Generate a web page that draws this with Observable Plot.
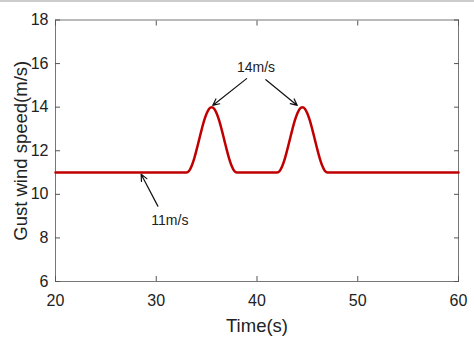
<!DOCTYPE html>
<html><head><meta charset="utf-8">
<script src="https://cdn.jsdelivr.net/npm/d3@7"></script>
<script src="https://cdn.jsdelivr.net/npm/@observablehq/plot@0.6"></script>
<style>
body{margin:0;background:#fff;}
#c{border-top:2px solid #ccc;box-sizing:border-box;}
svg{font-family:"Liberation Sans",Arial,sans-serif;}
</style></head><body><div id="c"></div>
<script>
// time (s) and gust wind speed (m/s)
const time = [20,33,33.25,33.5,33.75,34,34.25,34.5,34.75,35,35.25,35.5,35.75,36,36.25,36.5,36.75,37,37.25,37.5,37.75,38,
  42,42.25,42.5,42.75,43,43.25,43.5,43.75,44,44.25,44.5,44.75,45,45.25,45.5,45.75,46,46.25,46.5,46.75,47,60];
const speed = [11,11,11.07,11.29,11.62,12.04,12.5,12.96,13.38,13.71,13.93,14,13.93,13.71,13.38,12.96,12.5,12.04,11.62,11.29,11.07,11,
  11,11.07,11.29,11.62,12.04,12.5,12.96,13.38,13.71,13.93,14,13.93,13.71,13.38,12.96,12.5,12.04,11.62,11.29,11.07,11,11];
const xTicks = [20,30,40,50,60];
const yTicks = [6,8,10,12,14,16,18];
const labels = [{x:39.9,y:15.8,text:"14m/s"},{x:31.35,y:8.8,text:"11m/s"}];
const arrows = [
  {x1:38.97,y1:15.31,x2:35.6,y2:14.08},
  {x1:40.88,y1:15.26,x2:44.0,y2:14.08},
  {x1:30.16,y1:9.46,x2:28.5,y2:10.92}
];
const data = time.map((t,i)=>({t, v:speed[i]}));
const chart = Plot.plot({
  width:474, height:350,
  marginLeft:55, marginRight:16, marginTop:17.5, marginBottom:71,
  x:{domain:[20,60]},
  y:{domain:[6,18]},
  style:{fontSize:"15px", color:"#222", background:"#fff"},
  marks:[
    Plot.frame({stroke:"#777", strokeWidth:1}),
    Plot.axisX(xTicks,{anchor:"bottom", tickSize:-5, tickPadding:18, fontSize:16, stroke:"#555", label:"Time(s)", labelAnchor:"center", labelOffset:50, labelArrow:"none"}),
    Plot.axisX(xTicks,{anchor:"top", tickSize:-5, text:null, stroke:"#555", label:null}),
    Plot.axisY(yTicks,{anchor:"left", tickSize:-5, tickPadding:12, fontSize:16, stroke:"#555", label:"Gust wind speed(m/s)", labelAnchor:"center", labelOffset:42, labelArrow:"none"}),
    Plot.axisY(yTicks,{anchor:"right", tickSize:-5, text:null, stroke:"#555", label:null}),
    Plot.line(data,{x:"t", y:"v", stroke:"#c00000", strokeWidth:2.5, curve:"monotone-x"}),
    Plot.arrow(arrows,{x1:"x1",y1:"y1",x2:"x2",y2:"y2", stroke:"#111", strokeWidth:1.2, headLength:9, headAngle:50}),
    Plot.text(labels,{x:"x",y:"y",text:"text", fontSize:14, fill:"#222"})
  ]
});
// axis label font size
chart.querySelectorAll('[aria-label="x-axis label"] text, [aria-label="y-axis label"] text').forEach(t=>t.setAttribute("font-size","18.5"));
document.getElementById("c").appendChild(chart);
</script></body></html>
